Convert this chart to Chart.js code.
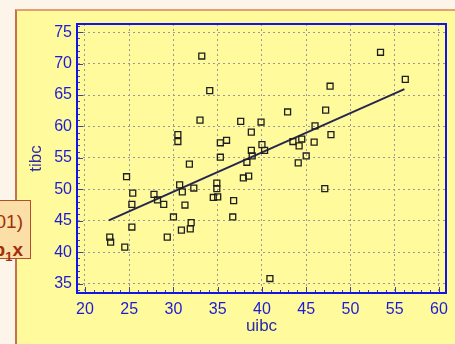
<!DOCTYPE html>
<html><head><meta charset="utf-8">
<script src="https://cdn.jsdelivr.net/npm/chart.js@4/dist/chart.umd.min.js"></script>
<style>
html,body{margin:0;padding:0;width:455px;height:344px;overflow:hidden;background:#fdf5ea;position:relative;}
#panel{position:absolute;left:15px;top:9px;width:460px;height:333px;background:#fffa9c;border-left:2px solid #c8704c;border-top:2px solid #e4a070;}
#note{position:absolute;left:-100px;top:200px;width:129px;height:57px;background:#fbdfa6;border:1.5px solid #b0502a;}
.nl{position:absolute;right:432px;white-space:nowrap;font-family:"Liberation Sans",Arial,sans-serif;color:#a0300e;font-size:19px;line-height:19px;}
#c{position:absolute;left:0;top:0;}
</style></head>
<body>
<div id="panel"></div>
<div id="note"></div>
<div class="nl" style="top:212px;">(P&lt;0.0001)</div>
<div class="nl" style="top:240px;font-weight:bold;">y = a + b<sub style="font-size:13px;">1</sub>x</div>
<canvas id="c" width="455" height="344"></canvas>
<script>
const uibc = [33.2,34.1,33.0,30.5,30.5,31.8,35.3,36.0,35.3,37.6,38.8,38.8,38.9,38.3,53.4,56.2,47.7,42.9,47.2,39.9,46.0,47.8,43.5,44.5,44.2,45.9,40.0,40.3,45.0,44.1,47.1,40.9,38.5,37.9,24.7,25.4,25.3,25.3,22.8,22.9,24.5,27.8,28.2,28.9,30.0,29.3,30.7,31.0,31.3,32.3,30.9,32.0,31.9,34.9,34.9,34.5,35.0,36.8,36.7];
const tibc = [71.2,65.7,61.0,58.7,57.6,54.0,57.4,57.8,55.1,60.8,59.1,56.2,55.3,54.3,71.8,67.5,66.4,62.3,62.6,60.7,60.1,58.7,57.6,58.0,56.9,57.5,57.1,56.2,55.3,54.2,50.1,35.8,52.1,51.8,52.0,49.4,47.6,44.0,42.4,41.6,40.8,49.2,48.3,47.6,45.6,42.4,50.7,49.6,47.5,50.2,43.5,44.7,43.7,51.0,50.1,48.7,48.8,48.2,45.6];
const fitX = [22.7, 56.1];
const fitY = [45.05, 65.95];
const xTickValues = [20,25,30,35,40,45,50,55,60];
const yTickValues = [35,40,45,50,55,60,65,70,75];

const frameTicks = {
  id:'frameTicks',
  afterDraw(chart){
    const {ctx, chartArea:a, scales:{x,y}} = chart;
    ctx.save();
    ctx.strokeStyle='#40409a'; ctx.lineWidth=1;
    ctx.beginPath();
    for(let v=Math.ceil(x.min); v<=x.max; v++){
      const px=Math.round(x.getPixelForValue(v))+0.5; const len=v%5===0?6:3;
      ctx.moveTo(px,a.bottom); ctx.lineTo(px,a.bottom-len);
    }
    for(let v=Math.ceil(y.min); v<=y.max; v++){
      const py=Math.round(y.getPixelForValue(v))+0.5; const len=v%5===0?6:3;
      ctx.moveTo(a.left,py); ctx.lineTo(a.left+len,py);
    }
    ctx.stroke();
    ctx.strokeStyle='#1414e6'; ctx.lineWidth=2;
    ctx.strokeRect(a.left,a.top,a.right-a.left,a.bottom-a.top);
    ctx.restore();
  }
};

const tickFont = {family:'"Liberation Sans", Arial, sans-serif', size:16};
const titleFont = {family:'"Liberation Sans", Arial, sans-serif', size:17};

new Chart(document.getElementById('c'), {
  type:'scatter',
  data:{datasets:[
    {data: uibc.map((x,i)=>({x:x, y:tibc[i]})), pointStyle:'rect', pointRadius:4.2, pointBorderColor:'#1e1e1e', pointBorderWidth:1.3, pointBackgroundColor:'rgba(0,0,0,0)', showLine:false, order:1},
    {type:'line', data: fitX.map((x,i)=>({x:x, y:fitY[i]})), borderColor:'#262650', borderWidth:2, pointRadius:0, fill:false, order:2}
  ]},
  options:{
    responsive:false, animation:false, devicePixelRatio:1,
    layout:{padding:{left:0, top:24, right:9, bottom:0}},
    plugins:{legend:{display:false}, tooltip:{enabled:false}},
    scales:{
      x:{type:'linear', min:19.1, max:60.8,
        afterBuildTicks: s=>{ s.ticks = xTickValues.map(v=>({value:v})); },
        afterFit: s=>{ s.height = 51; },
        grid:{color:'#999999', lineWidth:1, drawTicks:false},
        border:{display:true, color:'#1414e6', width:2, dash:[2,3]},
        ticks:{color:'#1c1cd4', font:tickFont, padding:7, maxRotation:0, autoSkip:false},
        title:{display:true, text:'uibc', color:'#2a2aa8', font:titleFont, padding:{top:0,bottom:7}}
      },
      y:{type:'linear', min:33.5, max:76.3,
        afterBuildTicks: s=>{ s.ticks = yTickValues.map(v=>({value:v})); },
        afterFit: s=>{ s.width = 77; },
        grid:{color:'#999999', lineWidth:1, drawTicks:false},
        border:{display:true, color:'#1414e6', width:2, dash:[2,3]},
        ticks:{color:'#1c1cd4', font:tickFont, padding:5, autoSkip:false},
        title:{display:true, text:'tibc', color:'#2a2aa8', font:titleFont, padding:{top:26,bottom:0}}
      }
    }
  },
  plugins:[frameTicks]
});
</script>
</body></html>
